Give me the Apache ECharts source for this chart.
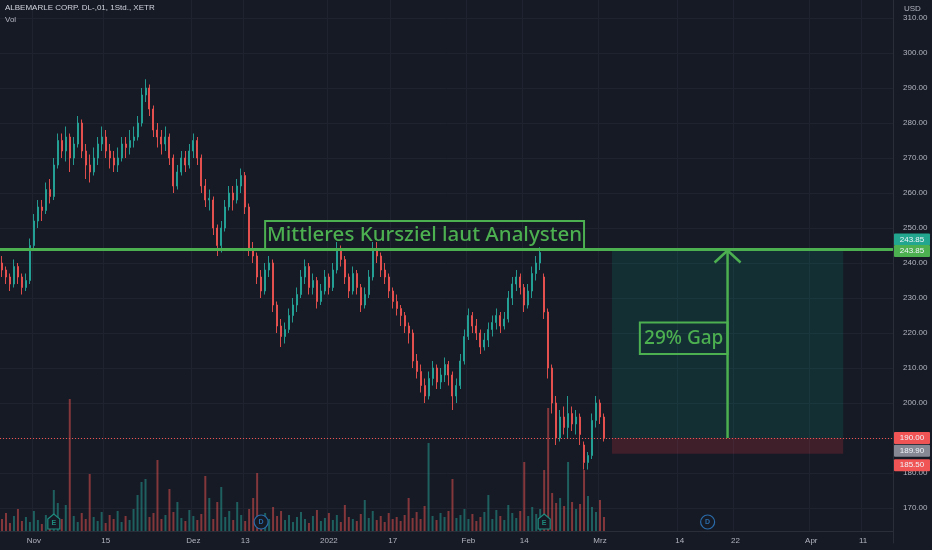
<!DOCTYPE html>
<html><head><meta charset="utf-8">
<script src="https://cdn.jsdelivr.net/npm/echarts@6/dist/echarts.min.js"></script>
<style>html,body{margin:0;padding:0;background:#161a25;}#c{width:932px;height:550px;}</style>
</head><body><div id="c"></div>
<script>
// ---- data (hourly bars) ----
const opens = [240,238,236,234,239,236,233,235,245,252,
256,255,261,259,268,275,272,276,270,274,
280,272,268,266,270,274,276,272,270,268,
270,274,273,275,276,280,288,290,284,278,
276,274,276,270,262,266,270,268,272,275,
270,262,258,258,250,245,250,256,260,258,
262,265,256,244,242,236,232,238,240,228,
222,219,221,225,228,231,236,239,233,235,
229,232,236,233,238,244,241,236,232,237,
233,228,231,236,244,242,238,236,232,229,
227,225,222,220,212,209,205,202,207,210,
206,208,211,208,202,205,212,219,225,222,
220,216,218,221,223,225,222,224,230,234,
236,233,228,232,237,240,236,226,210,200,
190,196,193,197,194,196,188,183,185,195,
200,196];
const closes = [238,236,234,239,236,233,235,245,252,256,
255,261,259,268,275,272,276,270,274,280,
272,268,266,270,274,276,272,270,268,270,
274,273,275,276,280,288,290,284,278,276,
274,276,270,262,266,270,268,272,275,270,
262,258,258.5,250,245,250,256,260,258,262,
265,256,244,242,236,232,238,240,228,222,
219,221,225,228,231,236,239,233,235,229,
232,236,233,238,244,241,236,232,237,233,
228,231,236,244,242,238,236,232,229,227,
225,222,220,212,209,205,202,207,210,206,
208,211,208,202,205,212,219,225,222,220,
216,218,221,223,225,222,224,230,234,236,
233,228,232,237,240,243,226,210,200,190,
196,193,197,194,196,191,183,185,195,200,
196,189.9];
const lows = [236,234,232,233,234,231,232,234,244,250,
252,254,257,258,267,270,269,266,268,273,
270,264,263,265,268,272,270,267,266,266,
269,270,271,273,275,279,286,282,276,273,
271,272,268,260,261,265,266,267,270,268,
260,256,255,248,242,243,249,255,255,257,
260,254,242,240,234,230,231,236,226,220,
216,217,220,223,226,230,234,231,231,227,
228,231,231,232,237,239,234,230,231,231,
226,227,230,235,240,236,234,230,227,225,
222,220,217,210,207,203,200,201,205,204,
204,206,205,198,200,204,211,218,220,218,
214,215,216,219,221,220,221,223,228,232,
231,226,227,230,235,238,224,207,197,188,
189,191,190,192,191,188,181,181,184,193,
194,189];
const highs = [242,239,237,241,240,237,237,247,254,258,
258,263,264,270,277,277,279,277,276,282,
281,274,271,273,276,279,278,274,272,273,
276,276,278,279,282,290,292.5,291,285,280,
278,279,277,271,268,272,272,274,277,276,
271,264,261,259,251,252,258,262,262,264,
267,266,257,246,243,238,240,242,241,229,
224,223,227,230,233,238,241,240,237,236,
234,238,237,240,246,245,242,237,239,238,
234,233,238,246,246,243,240,237,233,231,
228,226,223,221,214,211,207,209,212,211,
210,213,212,209,207,214,221,227,226,224,
221,220,223,225,227,226,226,232,236,238,
237,234,234,239,242,244.5,237,227,211,202,
198,199,202,199,198,197,189,186,197,202,
201,197];
const volumes = [12,18,8,15,22,10,14,9,20,11,
7,16,13,41,28,12,26,132,15,9,
18,12,57,14,10,19,8,16,12,20,
9,15,11,22,36,49,52,14,18,71,
12,16,42,19,29,13,10,21,15,11,
17,55,33,12,29,44,14,20,11,29,
16,10,22,33,58,14,18,12,24,15,
20,11,16,9,14,19,12,8,15,21,
10,13,18,11,16,9,26,14,12,10,
17,31,13,20,11,15,9,18,12,14,
10,16,33,13,19,12,25,88,15,11,
18,14,20,52,13,16,22,12,17,10,
14,19,36,12,21,15,11,26,18,13,
20,69,15,24,17,22,61,123,38,28,
33,25,69,29,22,27,61,35,24,19,
31,14];
const totalBars = 224;
const tickIdx  = [8,26,48,61,82,98,117,131,150,170,184,203,216];
const tickText = ['Nov','15','Dez','13','2022','17','Feb','14','Mrz','14','22','Apr','11'];
const targetPrice = 243.85;
const gapLow = 190.00;
const lastPrice = 189.90;
const rangeLow = 185.50;
const gapStartIdx = 153, gapEndIdx = 211, arrowIdx = 182;
const noteText = 'Mittleres Kursziel laut Analysten';
const gapText = '29% Gap';
const eventIdx = [13,65,136,177];
const eventType = ['E','D','E','D'];
const tagValues = [targetPrice, targetPrice, gapLow, lastPrice, rangeLow];
const tagColors = ['#22a68f','#4caf50','#f05454','#868993','#f05454'];
const tagShift  = [-10, 1.5, 0, 12.5, 11.5];

// ---- chart ----
const GREEN = '#4caf50', UP = '#26a69a', DOWN = '#ef5350';
const TXT = '#b2b5be', GRIDC = '#1f2330', AXISC = '#2a2e39';
const cats = Array.from({length: totalBars}, (_, i) => String(i));
const candles = opens.map((o, i) => [o, closes[i], lows[i], highs[i]]);
const showTick = (i) => tickIdx.indexOf(i) >= 0;

const chart = echarts.init(document.getElementById('c'), null, {renderer: 'canvas'});
chart.setOption({
  backgroundColor: '#161a25',
  animation: false,
  textStyle: {fontFamily: 'Liberation Sans'},
  grid: [
    {left: 0, right: 39, top: -17, bottom: 7, outerBoundsMode: 'none'},
    {left: 0, right: 39, top: 0, bottom: 19, outerBoundsMode: 'none'}
  ],
  xAxis: [
    {type: 'category', gridIndex: 0, data: cats, show: false, boundaryGap: true},
    {type: 'category', gridIndex: 1, data: cats, boundaryGap: true,
     axisLine: {show: true, lineStyle: {color: AXISC}},
     axisTick: {show: false},
     axisLabel: {interval: (i) => showTick(i), margin: 6, fontSize: 8, color: TXT,
       formatter: (v, i) => { const k = tickIdx.indexOf(i); return k >= 0 ? tickText[k] : ''; }},
     splitLine: {show: true, interval: (i) => showTick(i), lineStyle: {color: GRIDC, width: 1}}}
  ],
  yAxis: [
    {type: 'value', gridIndex: 0, position: 'right', min: 160, max: 320, interval: 10,
     axisLine: {show: true, lineStyle: {color: AXISC}},
     axisTick: {show: false},
     axisLabel: {margin: 10, fontSize: 8, color: TXT,
       formatter: (v) => (v < 165 || v > 315) ? '' : v.toFixed(2)},
     splitLine: {show: true, showMinLine: false, showMaxLine: false, lineStyle: {color: GRIDC, width: 1}}},
    {type: 'value', gridIndex: 1, min: 0, max: 531, show: false, splitLine: {show: false}}
  ],
  series: [
    {type: 'bar', name: 'Vol', xAxisIndex: 1, yAxisIndex: 1, data: volumes, barWidth: 2,
     itemStyle: {color: (p) => closes[p.dataIndex] >= opens[p.dataIndex] ? 'rgba(38,166,154,0.5)' : 'rgba(239,83,80,0.5)'}},
    {type: 'candlestick', xAxisIndex: 0, yAxisIndex: 0, data: candles, barWidth: 1.5,
     itemStyle: {color: UP, color0: DOWN, borderColor: UP, borderColor0: DOWN, borderWidth: 1, opacity: 0.9},
     markLine: {silent: true, symbol: ['none','none'], label: {show: false},
       data: [
         {yAxis: targetPrice, lineStyle: {color: GREEN, width: 3, type: 'solid'}},
         {yAxis: lastPrice, lineStyle: {color: '#ef5350', width: 1, type: [1, 2]}}
       ]},
     markArea: {silent: true, data: [
       [{xAxis: gapStartIdx, yAxis: targetPrice, itemStyle: {color: 'rgba(8,153,129,0.17)'}},
        {xAxis: gapEndIdx, yAxis: gapLow}],
       [{xAxis: gapStartIdx, yAxis: gapLow, itemStyle: {color: 'rgba(242,54,69,0.18)'}},
        {xAxis: gapEndIdx, yAxis: rangeLow}],
       [{name: noteText, xAxis: 66, yAxis: 252,
         itemStyle: {color: 'rgba(0,0,0,0)', borderColor: GREEN, borderWidth: 2},
         label: {show: true, position: 'inside', color: GREEN, fontSize: 20.5, fontWeight: 500, fontFamily: 'Noto Sans'}},
        {xAxis: 146, yAxis: targetPrice}],
       [{name: gapText, xAxis: 160, yAxis: 223,
         itemStyle: {color: 'rgba(0,0,0,0)', borderColor: GREEN, borderWidth: 2},
         label: {show: true, position: 'inside', color: GREEN, fontSize: 19, fontWeight: 500, fontFamily: 'Noto Sans'}},
        {xAxis: arrowIdx, yAxis: 214}]
     ]}},
    {type: 'custom', xAxisIndex: 0, yAxisIndex: 0, silent: true,
     data: [[arrowIdx, gapLow, targetPrice]],
     encode: {x: 0, y: [1, 2]},
     renderItem: (params, api) => {
       const b = api.coord([api.value(0), api.value(1)]);
       const t = api.coord([api.value(0), api.value(2)]);
       return {type: 'group', children: [
         {type: 'line', shape: {x1: b[0], y1: b[1], x2: t[0], y2: t[1] + 1}, style: {stroke: GREEN, lineWidth: 2.5}},
         {type: 'polyline', shape: {points: [[t[0]-13, t[1]+13], [t[0], t[1]+1], [t[0]+13, t[1]+13]]},
          style: {stroke: GREEN, lineWidth: 2.5, fill: null}}
       ]};
     }}
  ]
});

// ---- overlay texts, price tags and event badges ----
const g = [];
g.push({type: 'text', left: 5, top: 4, style: {text: 'ALBEMARLE CORP. DL-,01, 1Std., XETR', fill: '#d1d4dc', font: '8px "Liberation Sans"'}});
g.push({type: 'text', left: 5, top: 16, style: {text: 'Vol', fill: '#b2b5be', font: '8px "Liberation Sans"'}});
g.push({type: 'text', left: 904, top: 5, style: {text: 'USD', fill: TXT, font: '8px "Liberation Sans"'}});
tagValues.forEach((v, k) => {
  const py = chart.convertToPixel({yAxisIndex: 0}, v) + tagShift[k];
  g.push({type: 'rect', shape: {x: 894, y: py - 6, width: 36, height: 12, r: 1}, style: {fill: tagColors[k]}, z: 10});
  g.push({type: 'text', x: 912, y: py, style: {text: v.toFixed(2), fill: '#f0f3fa', font: '8px "Liberation Sans"', align: 'center', verticalAlign: 'middle'}, z: 11});
});
eventIdx.forEach((idx, k) => {
  const px = chart.convertToPixel({xAxisIndex: 0}, idx);
  const cy = 522;
  if (eventType[k] === 'E') {
    g.push({type: 'polygon', shape: {points: [[px-6, cy-3], [px, cy-8], [px+6, cy-3], [px+6, cy+7], [px-6, cy+7]]},
      style: {fill: '#161a25', stroke: '#1e8c7e', lineWidth: 1.2}, z: 10});
  } else {
    g.push({type: 'circle', shape: {cx: px, cy: cy, r: 7}, style: {fill: '#161a25', stroke: '#2a6cab', lineWidth: 1.2}, z: 10});
  }
  g.push({type: 'text', x: px, y: cy + (eventType[k] === 'E' ? 1 : 0), style: {text: eventType[k], fill: eventType[k] === 'E' ? '#1e8c7e' : '#2a6cab',
    font: 'bold 7px "Liberation Sans"', align: 'center', verticalAlign: 'middle'}, z: 11});
});
chart.setOption({graphic: g});
</script>
</body></html>
